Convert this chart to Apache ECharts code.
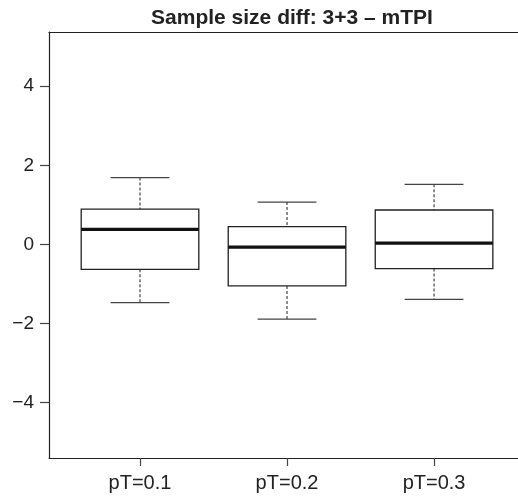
<!DOCTYPE html>
<html>
<head>
<meta charset="utf-8">
<script src="https://cdn.jsdelivr.net/npm/echarts@6/dist/echarts.min.js"></script>
<style>html,body{margin:0;padding:0;background:#fff}#c{width:518px;height:499px}</style>
</head>
<body>
<div id="c"></div>
<script>
var categories = ['pT=0.1', 'pT=0.2', 'pT=0.3'];
var lowerWhisker = [-1.47, -1.89, -1.39];
var q1 = [-0.63, -1.05, -0.61];
var median = [0.38, -0.07, 0.03];
var q3 = [0.89, 0.45, 0.87];
var upperWhisker = [1.69, 1.07, 1.52];
var yTicks = [-4, -2, 0, 2, 4];
var xTicks = [1, 2, 3];

var FONT = 'Liberation Sans, Arial, Helvetica, sans-serif';
var chart = echarts.init(document.getElementById('c'), null, {renderer: 'canvas'});

var data = categories.map(function (c, i) {
  return [i + 1, lowerWhisker[i], q1[i], median[i], q3[i], upperWhisker[i]];
});

function renderItem(params, api) {
  var x = api.value(0);
  var lo = api.value(1), b1 = api.value(2), md = api.value(3), b3 = api.value(4), hi = api.value(5);
  var hw = 0.4, cw = 0.2;
  var pTL = api.coord([x - hw, b3]);
  var pBR = api.coord([x + hw, b1]);
  var pMl = api.coord([x - hw, md]);
  var pMr = api.coord([x + hw, md]);
  var pHi = api.coord([x, hi]);
  var pB3 = api.coord([x, b3]);
  var pB1 = api.coord([x, b1]);
  var pLo = api.coord([x, lo]);
  var cHl = api.coord([x - cw, hi]), cHr = api.coord([x + cw, hi]);
  var cLl = api.coord([x - cw, lo]), cLr = api.coord([x + cw, lo]);
  var dash = {stroke: '#444', lineWidth: 1.2, lineDash: [3, 2]};
  var solid = {stroke: '#444', lineWidth: 1.2};
  return {
    type: 'group',
    children: [
      {type: 'line', shape: {x1: pHi[0], y1: pHi[1], x2: pB3[0], y2: pB3[1]}, style: dash},
      {type: 'line', shape: {x1: pB1[0], y1: pB1[1], x2: pLo[0], y2: pLo[1]}, style: dash},
      {type: 'line', shape: {x1: cHl[0], y1: cHl[1], x2: cHr[0], y2: cHr[1]}, style: solid},
      {type: 'line', shape: {x1: cLl[0], y1: cLl[1], x2: cLr[0], y2: cLr[1]}, style: solid},
      {type: 'rect', shape: {x: pTL[0], y: pTL[1], width: pBR[0] - pTL[0], height: pBR[1] - pTL[1]},
        style: {fill: '#fff', stroke: '#222', lineWidth: 1.3}},
      {type: 'line', shape: {x1: pMl[0], y1: pMl[1], x2: pMr[0], y2: pMr[1]}, style: {stroke: '#111', lineWidth: 3.2}}
    ]
  };
}

chart.setOption({
  animation: false,
  backgroundColor: '#fff',
  title: {
    text: 'Sample size diff: 3+3 \u2013 mTPI',
    left: 287, textAlign: 'center', top: 3,
    textStyle: {fontFamily: FONT, fontSize: 21, fontWeight: 'bold', color: '#222'}
  },
  grid: {left: 49, right: 0, top: 32, bottom: 41, show: false, containLabel: false},
  xAxis: [{
    type: 'value', min: 0.381, max: 3.571,
    axisLine: {show: true, onZero: false, lineStyle: {color: '#222', width: 1.2}},
    axisTick: {show: true, length: 8, customValues: xTicks, lineStyle: {color: '#444', width: 1.2}},
    axisLabel: {customValues: xTicks, margin: 15, fontFamily: FONT, fontSize: 20, color: '#222',
      formatter: function (v) { return categories[Math.round(v) - 1] || ''; }},
    splitLine: {show: false}
  }, {
    type: 'value', min: 0.381, max: 3.571, position: 'top',
    axisLine: {show: true, onZero: false, lineStyle: {color: '#222', width: 1.2}},
    axisTick: {show: false}, axisLabel: {show: false}, splitLine: {show: false}
  }],
  yAxis: {
    type: 'value', min: -5.4, max: 5.37,
    axisLine: {show: true, onZero: false, lineStyle: {color: '#222', width: 1.2}},
    axisTick: {show: true, length: 9, customValues: yTicks, lineStyle: {color: '#444', width: 1.2}},
    axisLabel: {customValues: yTicks, margin: 15, fontFamily: FONT, fontSize: 19, color: '#222',
      formatter: function (v) { return v < 0 ? '\u2212' + Math.abs(v) : String(v); }},
    splitLine: {show: false}
  },
  series: [{
    type: 'custom',
    renderItem: renderItem,
    encode: {x: 0, y: [1, 2, 3, 4, 5]},
    data: data,
    clip: false
  }]
});
</script>
</body>
</html>
